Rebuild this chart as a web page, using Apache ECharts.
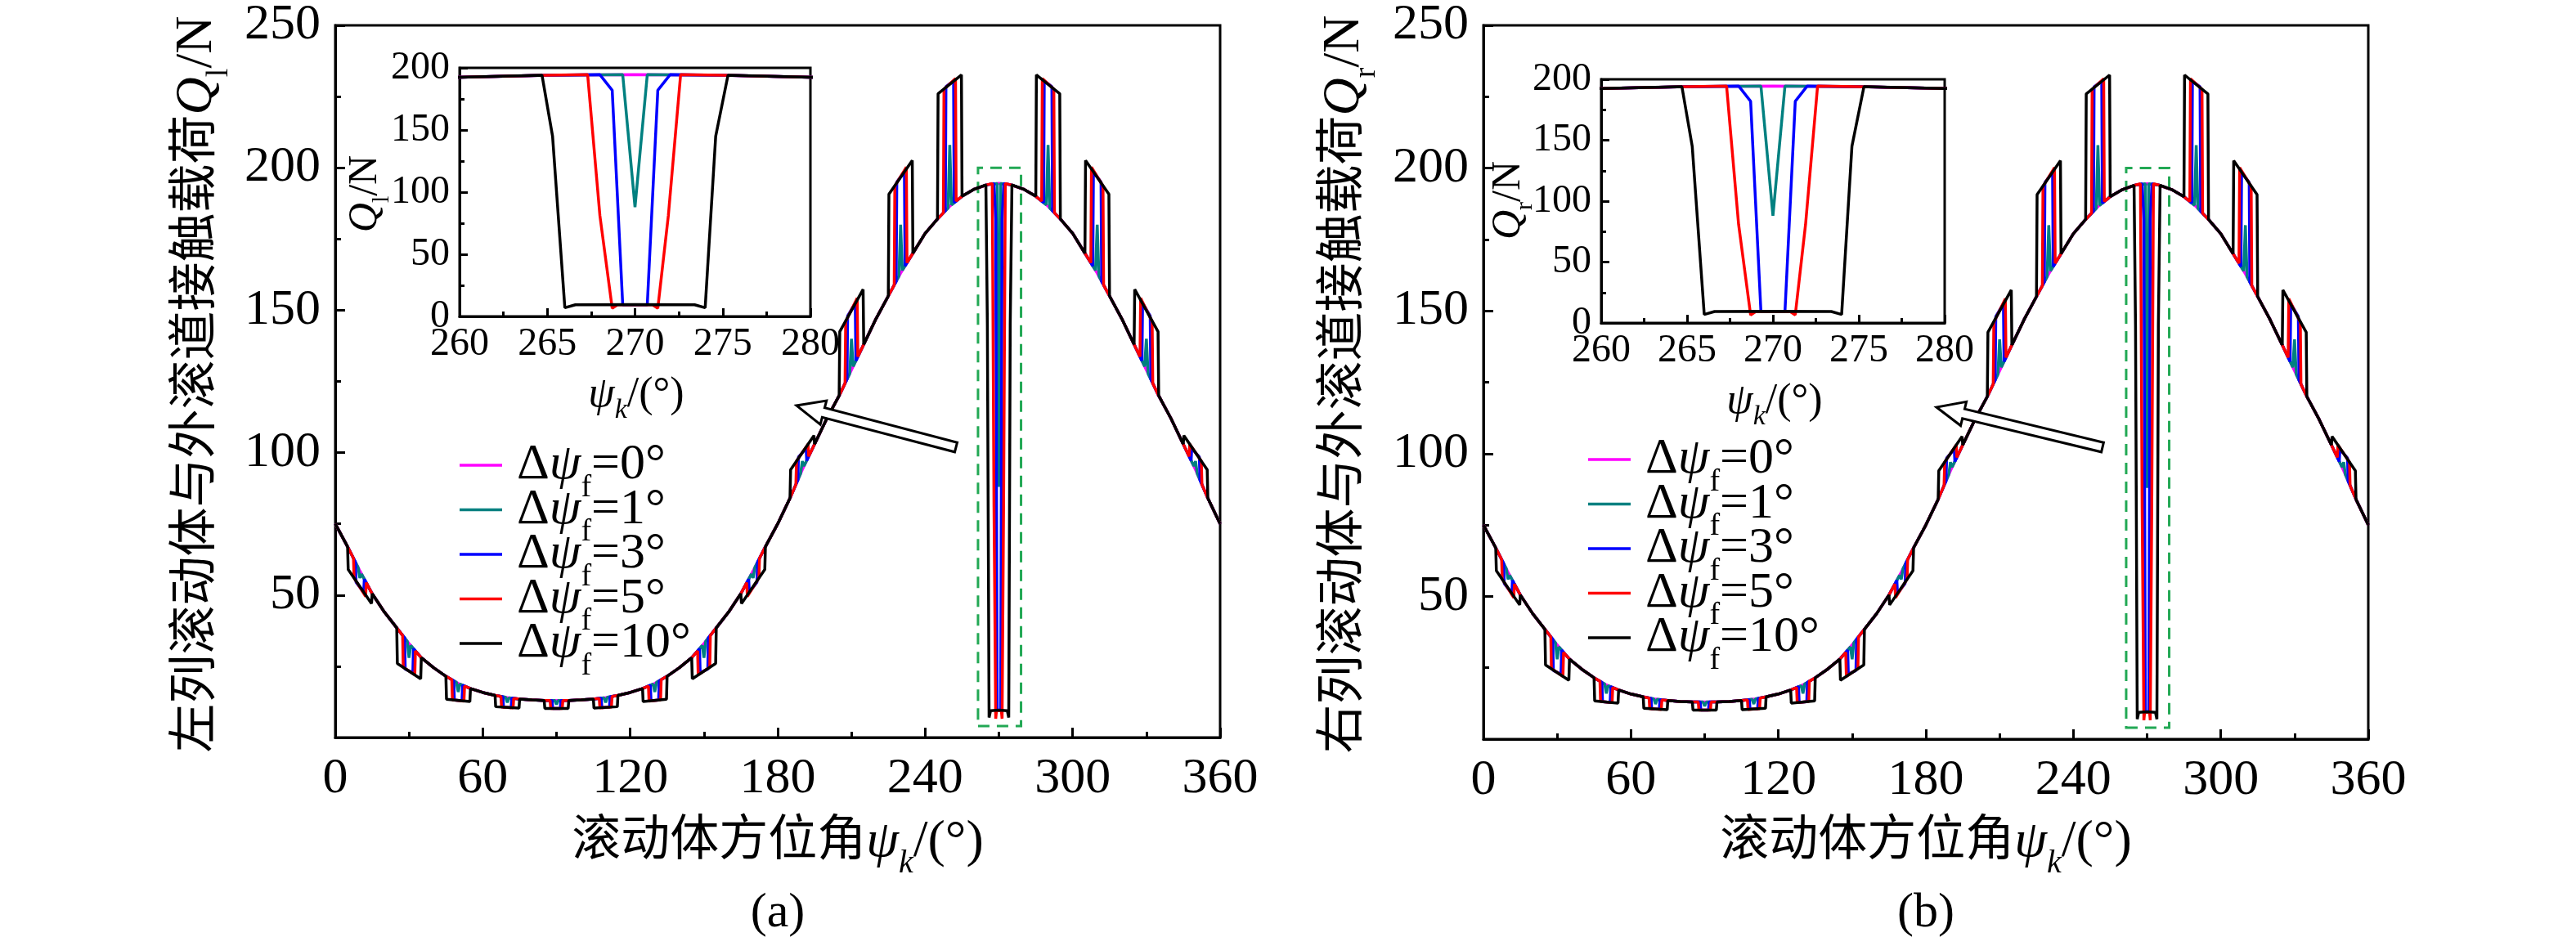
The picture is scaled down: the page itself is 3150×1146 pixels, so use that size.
<!DOCTYPE html>
<html><head><meta charset="utf-8">
<script src="https://cdn.jsdelivr.net/npm/echarts@6/dist/echarts.min.js"></script>
<style>html,body{margin:0;padding:0;background:#fff}#c{width:3150px;height:1146px}</style>
</head><body><div id="c"></div>
<script>
// ---------- DATA ----------
const seriesNames = ['Δψf=0°','Δψf=1°','Δψf=3°','Δψf=5°','Δψf=10°'];
const legendValues = ['0°','1°','3°','5°','10°'];
const seriesColors = ['#ff00ff','#008080','#0000ff','#ff0000','#000000'];
const xTicks = [0,60,120,180,240,300,360];
const yTicks = [50,100,150,200,250];
// base contact load (Δψf=0) at 5° steps
const baseAngles = [0,5,10,15,20,25,30,35,40,45,50,55,60,65,70,75,80,85,90,
  95,100,105,110,115,120,125,130,135,140,145,150,155,160,165,170,175,180,
  185,190,195,200,205,210,215,220,225,230,235,240,245,250,255,260,265,270,
  275,280,285,290,295,300,305,310,315,320,325,330,335,340,345,350,355,360];
const baseLoads = [75,67,58.5,50.5,44,38.5,33,28,24.5,21.5,19,17.2,15.8,14.8,14,13.5,13.2,13,13,
  13,13.2,13.5,14,14.8,15.8,17.2,19,21.5,24.5,28,33,38.5,44,50.5,58.5,67,75,
  84,94,103,112,120,129,138,147,155,163,170,177,182,186.5,190,192.5,194,194.5,
  194,192.5,190,186.5,182,177,170,163,155,147,138,129,120,112,103,94,84,75];
// roller positions (excluding 270 which is listed separately)
const rollers = [10,30,50,70,90,110,130,150,170,190,210,230,250,290,310,330,350];
// Δψf=10° : load at start / end of window
const black10Start = [59,26,13.4,10.8,10.2,10.3,12.6,20.6,47,94,142.5,190.7,226,232.6,202.6,157.3,106];
const black10End   = [47,20.6,12.6,10.3,10.2,10.8,13.4,26,59,106,157.3,202.6,232.6,226,190.7,142.5,94];
// Δψf=5°
const red5Start = [56,24.7,13.2,10.7,10.2,10.4,12.8,22,49.5,97,146,193.6,227.6,231.3,200.2,154.3,103];
const red5End   = [49.5,22,12.8,10.4,10.2,10.7,13.2,24.7,56,103,154.3,200.2,231.3,227.6,193.6,146,97];
// Δψf=3°
const blue3Start = [54.5,24,13.1,10.6,10.2,10.5,12.9,22.8,51,98.5,148,195,228.5,230.5,198.5,152.5,101.5];
const blue3End   = [51,22.8,12.9,10.5,10.2,10.6,13.1,24,54.5,101.5,152.5,198.5,230.5,228.5,195,148,98.5];
// Δψf=1° : peak value at roller centre
const teal1Peak = [56,28,16,12.3,11.6,12.3,16,28,56,97,140,180,208,208,180,140,97];
// roller at 270° (zoomed inset) : angle / load pairs
const dip270Angles = {
  black: [264.7,265.3,266,266.6,270,273.4,274,274.6,275.3],
  red:   [267.3,268,268.7,269,271,271.3,271.9,272.6],
  blue:  [268,268.7,269.3,270.7,271.3,272],
  teal:  [269.3,270,270.7]
};
const dip270Loads = {
  black: [194,145,7,9.4,9.6,9.4,7,145,194],
  red:   [194.5,81,6.6,9.4,9.4,6.6,81,194.5],
  blue:  [194.5,182,9.4,9.4,182,194.5],
  teal:  [194.5,88,194.5]
};
const boxRange = {x:[261.5,279], y:[4,200]};

// ---------- BUILD ----------
function baseAt(a){
  for(let i=0;i<baseAngles.length-1;i++){
    if(a>=baseAngles[i]&&a<=baseAngles[i+1]){
      const t=(a-baseAngles[i])/(baseAngles[i+1]-baseAngles[i]);
      return baseLoads[i]+t*(baseLoads[i+1]-baseLoads[i]);
    }
  }
  return baseLoads[baseLoads.length-1];
}
function groupsFromWindow(w,startArr,endArr){
  return rollers.map((c,i)=>[[c-w,baseAt(c-w)],[c-w+0.25,startArr[i]],[c+w-0.25,endArr[i]],[c+w,baseAt(c+w)]]);
}
function build(groups){
  const pts=[];
  baseAngles.forEach((a,i)=>{
    if(!groups.some(g=>a>=g[0][0]&&a<=g[g.length-1][0])) pts.push([a,baseLoads[i]]);
  });
  groups.forEach(g=>g.forEach(p=>pts.push(p)));
  pts.sort((p,q)=>p[0]-q[0]);
  return pts;
}
function dip(key){return dip270Angles[key].map((a,i)=>[a,dip270Loads[key][i]]);}
const dataSets = [
  build([]),
  build(rollers.map((c,i)=>[[c-0.7,baseAt(c-0.7)],[c,teal1Peak[i]],[c+0.7,baseAt(c+0.7)]]).concat([dip('teal')])),
  build(groupsFromWindow(1.8,blue3Start,blue3End).concat([dip('blue')])),
  build(groupsFromWindow(2.6,red5Start,red5End).concat([dip('red')])),
  build(groupsFromWindow(5.0,black10Start,black10End).concat([dip('black')]))
];

// ---------- CHART ----------
const FS='"Liberation Serif","Times New Roman",serif';
const CJK='"Liberation Serif","Noto Sans CJK SC",serif';
const chart=echarts.init(document.getElementById('c'),null,{renderer:'canvas'});
const mains=[{left:410,top:28},{left:1814,top:30}];
const insets=[{left:562,top:83,width:429,height:304},{left:1958,top:97,width:420,height:298}];
const grids=[],xAxes=[],yAxes=[],series=[],graphics=[];
function arrow(T,H){
  const dx=H[0]-T[0],dy=H[1]-T[1],L=Math.hypot(dx,dy),ux=dx/L,uy=dy/L,nx=-uy,ny=ux;
  const hl=34,hw=15,sw=6,B=[H[0]-ux*hl,H[1]-uy*hl];
  return {type:'polygon',shape:{points:[[T[0]+nx*sw,T[1]+ny*sw],[B[0]+nx*sw,B[1]+ny*sw],[B[0]+nx*hw,B[1]+ny*hw],H,
    [B[0]-nx*hw,B[1]-ny*hw],[B[0]-nx*sw,B[1]-ny*sw],[T[0]-nx*sw,T[1]-ny*sw]]},
    style:{fill:'#fff',stroke:'#000',lineWidth:3},z:100};
}
const panelInfo=[
  {yt:'左列滚动体与外滚道接触载荷{q|Q}{s|l}{a|/N}',yx:241,cx:951,cap:'(a)',insY:'{q|Q}{s|l}{a|/N}',insYx:447,insYy:237,insXx:778,insXy:483,arrowT:[1169,547],arrowH:[974,496],legTop:569,legLeft:562},
  {yt:'右列滚动体与外滚道接触载荷{q|Q}{s|r}{a|/N}',yx:1644,cx:2355,cap:'(b)',insY:'{q|Q}{s|r}{a|/N}',insYx:1845,insYy:245,insXx:2170,insXy:491,arrowT:[2571,547],arrowH:[2368,498],legTop:562,legLeft:1942}
];
for(let p=0;p<2;p++){
  const gi=grids.length;
  grids.push({left:mains[p].left,top:mains[p].top,width:1082,height:874,show:true,borderColor:'#000',borderWidth:3,backgroundColor:'transparent'});
  xAxes.push({gridIndex:gi,type:'value',min:0,max:360,interval:60,
    axisLine:{lineStyle:{color:'#000',width:3}},axisTick:{inside:true,length:12,lineStyle:{width:3}},
    minorTick:{show:true,splitNumber:2,length:7,lineStyle:{color:'#000',width:3}},splitLine:{show:false},
    axisLabel:{fontFamily:FS,fontSize:62,color:'#000',margin:20}});
  yAxes.push({gridIndex:gi,type:'value',min:0,max:250,interval:50,
    axisLine:{lineStyle:{color:'#000',width:3}},axisTick:{inside:true,length:12,lineStyle:{width:3}},
    minorTick:{show:true,splitNumber:2,length:7,lineStyle:{color:'#000',width:3}},splitLine:{show:false},
    axisLabel:{fontFamily:FS,fontSize:62,color:'#000',margin:18,formatter:v=>v===0?'':String(v)}});
  const ii=grids.length;
  grids.push(Object.assign({show:true,borderColor:'#000',borderWidth:3,backgroundColor:'#fff'},insets[p]));
  xAxes.push({gridIndex:ii,type:'value',min:260,max:280,interval:5,
    axisLine:{lineStyle:{color:'#000',width:3}},axisTick:{inside:true,length:10,lineStyle:{width:3}},
    minorTick:{show:true,splitNumber:2,length:6,lineStyle:{color:'#000',width:3}},splitLine:{show:false},
    axisLabel:{fontFamily:FS,fontSize:48,color:'#000',margin:10}});
  yAxes.push({gridIndex:ii,type:'value',min:0,max:200,interval:50,
    axisLine:{lineStyle:{color:'#000',width:3}},axisTick:{inside:true,length:10,lineStyle:{width:3}},
    minorTick:{show:true,splitNumber:2,length:6,lineStyle:{color:'#000',width:3}},splitLine:{show:false},
    axisLabel:{fontFamily:FS,fontSize:48,color:'#000',margin:12}});
  [gi,ii].forEach(g=>{
    dataSets.forEach((d,k)=>{
      const s={name:seriesNames[k],type:'line',xAxisIndex:g,yAxisIndex:g,data:d,showSymbol:false,symbol:'none',
        lineStyle:{color:seriesColors[k],width:3.5},itemStyle:{color:seriesColors[k]},clip:true,animation:false,z:2+k};
      if(k===4&&g===gi){
        s.markArea={silent:true,itemStyle:{color:'rgba(0,0,0,0)',borderColor:'#22a854',borderWidth:3,borderType:[14,9]},
          data:[[{xAxis:boxRange.x[0],yAxis:boxRange.y[0]},{xAxis:boxRange.x[1],yAxis:boxRange.y[1]}]]};
      }
      series.push(s);
    });
  });
  const P=panelInfo[p];
  seriesNames.forEach((n,k)=>{
    const y=P.legTop+k*54.5;
    graphics.push({type:'line',shape:{x1:P.legLeft,y1:y,x2:P.legLeft+52,y2:y},style:{stroke:seriesColors[k],lineWidth:3.5},z:50});
    graphics.push({type:'text',x:P.legLeft+70,y:y,style:{text:'{a|Δ}{p|ψ}{s|f}{a|='+legendValues[k]+'}',verticalAlign:'middle',fill:'#000',
      rich:{a:{fontFamily:FS,fontSize:62},p:{fontFamily:FS,fontSize:62,fontStyle:'italic'},s:{fontFamily:FS,fontSize:38,verticalAlign:'bottom',padding:[0,0,-16,0]}}},z:50});
  });
  graphics.push({type:'text',x:P.yx,y:470,rotation:Math.PI/2,style:{text:P.yt,align:'center',verticalAlign:'middle',
    font:'60px '+CJK,fill:'#000',rich:{q:{fontFamily:FS,fontSize:64,fontStyle:'italic'},s:{fontFamily:FS,fontSize:38,verticalAlign:'bottom',padding:[0,0,-14,0]},a:{fontFamily:FS,fontSize:64}}}});
  graphics.push({type:'text',x:P.cx,y:1030,style:{text:'滚动体方位角{p|ψ}{s|k}{a|/(°)}',align:'center',verticalAlign:'middle',
    font:'60px '+CJK,fill:'#000',rich:{p:{fontFamily:FS,fontSize:64,fontStyle:'italic'},s:{fontFamily:FS,fontSize:40,fontStyle:'italic',verticalAlign:'bottom',padding:[0,0,-14,0]},a:{fontFamily:FS,fontSize:64}}}});
  graphics.push({type:'text',x:P.cx,y:1117,style:{text:P.cap,align:'center',verticalAlign:'middle',font:'60px '+FS,fill:'#000'}});
  graphics.push({type:'text',x:P.insYx,y:P.insYy,rotation:Math.PI/2,style:{text:P.insY,align:'center',verticalAlign:'middle',
    font:'48px '+FS,fill:'#000',rich:{q:{fontFamily:FS,fontSize:50,fontStyle:'italic'},s:{fontFamily:FS,fontSize:30,verticalAlign:'bottom',padding:[0,0,-10,0]},a:{fontFamily:FS,fontSize:50}}}});
  graphics.push({type:'text',x:P.insXx,y:P.insXy,style:{text:'{p|ψ}{s|k}{a|/(°)}',align:'center',verticalAlign:'middle',fill:'#000',
    rich:{p:{fontFamily:FS,fontSize:52,fontStyle:'italic'},s:{fontFamily:FS,fontSize:34,fontStyle:'italic',verticalAlign:'bottom',padding:[0,0,-10,0]},a:{fontFamily:FS,fontSize:52}}}});
  graphics.push(arrow(P.arrowT,P.arrowH));
}
chart.setOption({animation:false,backgroundColor:'#fff',grid:grids,xAxis:xAxes,yAxis:yAxes,series:series,graphic:graphics});
</script></body></html>
